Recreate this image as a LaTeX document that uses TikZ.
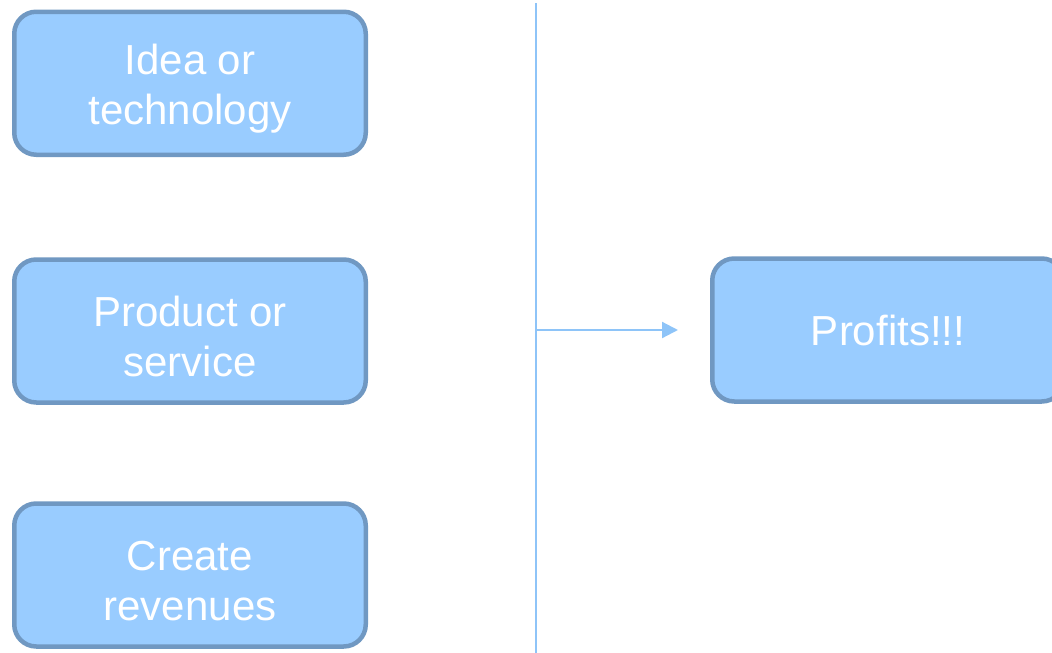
\documentclass[tikz,border=0pt]{standalone}
\usepackage{fontspec}
\setmainfont{Liberation Sans}
\usetikzlibrary{arrows.meta}
\definecolor{boxfill}{HTML}{99CCFF}
\definecolor{boxline}{HTML}{7098C2}
\definecolor{conn}{HTML}{8EC4F8}
\newcommand{\topgap}{\rule{0pt}{41pt}}
\begin{document}
\begin{tikzpicture}[x=1pt,y=1pt,
  stepbox/.style={draw=boxline, fill=boxfill, line width=4.5pt, rounded corners=22pt,
    minimum width=351.5pt, minimum height=143pt, text=white, align=center,
    font=\fontsize{42}{50}\selectfont, inner sep=0pt},
  conline/.style={draw=conn, line width=2.2pt}]
\useasboundingbox (0,-653) rectangle (1052,0);
\node[stepbox] (idea) at (190,-83.25) {\topgap Idea or\\technology};
\node[stepbox] (prod) at (190,-331) {\topgap Product or\\service};
\node[stepbox] (rev) at (190,-575) {\topgap Create\\revenues};
\node[stepbox] (prof) at (888,-330) {Profits!!!};
\coordinate (top) at (536,-3);
\coordinate (bot) at (536,-653);
\coordinate (mid) at (536,-330);
\coordinate (tip) at ([xshift=-32pt]prof.west);
\draw[conline] (top) -- (bot);
\draw[conline, -{Triangle[length=16pt,width=16pt]}] (mid) -- (tip);
\end{tikzpicture}
\end{document}
